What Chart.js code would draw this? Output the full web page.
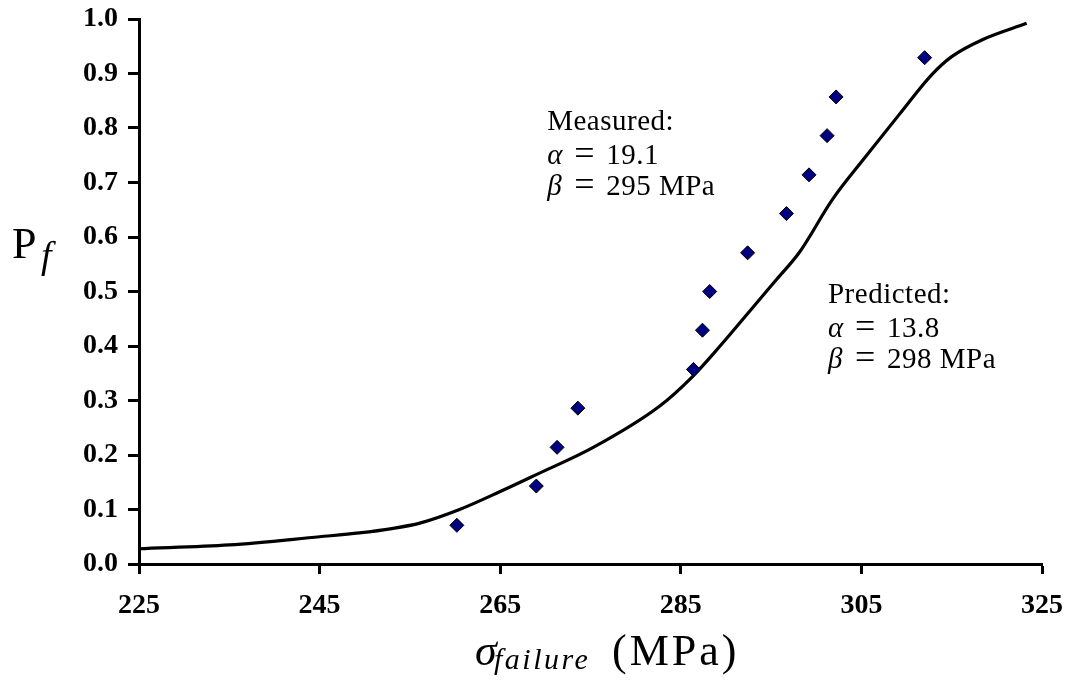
<!DOCTYPE html>
<html>
<head>
<meta charset="utf-8">
<script src="https://cdn.jsdelivr.net/npm/chart.js@4.4.1/dist/chart.umd.min.js"></script>
<style>
  html, body { margin: 0; padding: 0; background: #fff; }
  #wrap { width: 1069px; height: 685px; }
</style>
</head>
<body>
<div id="wrap"><canvas id="myChart" width="1069" height="685"></canvas></div>
<script>
// measured failure stresses (MPa) and their failure probabilities
const measuredStress = [260.2, 269.0, 271.3, 273.6, 286.4, 287.4, 288.2, 292.4, 296.7, 299.2, 301.2, 302.2, 312.0];
const measuredPf = [0.071, 0.143, 0.214, 0.286, 0.357, 0.429, 0.500, 0.571, 0.643, 0.714, 0.786, 0.857, 0.929];

// predicted curve
const predictedStress = [225, 235, 245, 249.4, 253, 256.1, 260.5, 265, 269, 275.2, 282.6, 286.3, 289.3, 293.7, 295.6, 298.1, 301.8, 305.5, 309.2, 312.8, 315, 318.4, 323.3];
const predictedPf = [0.028, 0.035, 0.050, 0.057, 0.065, 0.075, 0.100, 0.133, 0.164, 0.213, 0.289, 0.344, 0.399, 0.485, 0.522, 0.571, 0.669, 0.748, 0.825, 0.898, 0.931, 0.962, 0.992];

const xTicks = [225, 245, 265, 285, 305, 325];
const yTicks = [0.0, 0.1, 0.2, 0.3, 0.4, 0.5, 0.6, 0.7, 0.8, 0.9, 1.0];

const serif = '"Liberation Serif", "Times New Roman", serif';

const toPoints = (xs, ys) => xs.map((x, i) => ({ x: x, y: ys[i] }));

// annotation blocks: [label, alpha, beta] anchored in data space
const notes = [
  { x: 270.2, y: 0.797, lines: ["Measured:", "19.1", "295"] },
  { x: 301.3, y: 0.479, lines: ["Predicted:", "13.8", "298"] },
];

const textPlugin = {
  id: "texts",
  afterDraw(chart) {
    const c = chart.ctx;
    const area = chart.chartArea;
    const sx = chart.scales.x;
    const sy = chart.scales.y;
    c.save();
    c.fillStyle = "#000";
    c.textBaseline = "alphabetic";
    c.textAlign = "left";

    // annotations
    notes.forEach((n) => {
      const x0 = sx.getPixelForValue(n.x);
      const b0 = sy.getPixelForValue(n.y);
      c.font = "29px " + serif;
      c.letterSpacing = "0.5px";
      c.fillText(n.lines[0], x0, b0);
      c.letterSpacing = "0px";
      const b1 = b0 + 34;
      const b2 = b0 + 65;
      c.font = "italic 29px " + serif;
      c.fillText("α", x0, b1);
      c.fillText("β", x0, b2);
      c.font = "36px " + serif;
      c.fillText("=", x0 + 27, b1 + 1);
      c.fillText("=", x0 + 27, b2 + 1);
      c.font = "29px " + serif;
      c.letterSpacing = "0.5px";
      c.fillText(n.lines[1], x0 + 59, b1);
      c.fillText(n.lines[2] + " MPa", x0 + 59, b2);
      c.letterSpacing = "0px";
    });

    // y axis title P_f
    c.font = "44px " + serif;
    c.fillText("P", 12, 258);
    c.font = "italic 38px " + serif;
    c.fillText("f", 41, 268);

    // x axis title sigma_failure (MPa)
    const tx = area.left + 336;
    c.font = "italic 44px " + serif;
    c.fillText("σ", tx, 665);
    c.font = "italic 30px " + serif;
    c.letterSpacing = "2.5px";
    c.fillText("failure", tx + 19, 669);
    c.font = "44px " + serif;
    c.letterSpacing = "3px";
    c.fillText("(MPa)", tx + 137, 665);
    c.letterSpacing = "0px";
    c.restore();
  },
};

const noOverhang = (scale) => {
  scale.paddingTop = 0;
  scale.paddingBottom = 0;
  scale.paddingLeft = 0;
  scale.paddingRight = 0;
};

let ctx = null;
let curChart = null;

const init = () => {
  ctx = document.getElementById("myChart").getContext("2d");

  curChart = new Chart(ctx, {
    type: "scatter",
    data: {
      datasets: [
        {
          label: "Measured",
          data: toPoints(measuredStress, measuredPf),
          pointStyle: "rectRot",
          pointRadius: 7,
          pointBackgroundColor: "#000080",
          pointBorderColor: "#000",
          pointBorderWidth: 1,
          showLine: false,
        },
        {
          label: "Predicted",
          data: toPoints(predictedStress, predictedPf),
          showLine: true,
          borderColor: "#000",
          borderWidth: 3.2,
          pointRadius: 0,
          cubicInterpolationMode: "monotone",
        },
      ],
    },
    options: {
      responsive: false,
      animation: false,
      layout: { padding: { top: 19, right: 27, bottom: 0, left: 0 } },
      plugins: {
        legend: { display: false },
        tooltip: { enabled: false },
      },
      scales: {
        x: {
          type: "linear",
          position: "bottom",
          min: xTicks[0],
          max: xTicks[xTicks.length - 1],
          afterBuildTicks: (scale) => {
            scale.ticks = xTicks.map((v) => ({ value: v }));
          },
          afterFit: (scale) => {
            scale.height = 121;
            noOverhang(scale);
          },
          grid: {
            drawOnChartArea: false,
            drawTicks: true,
            tickLength: 10,
            tickColor: "#000",
            tickWidth: 3,
          },
          border: { display: true, color: "#000", width: 3 },
          ticks: {
            color: "#000",
            padding: 15,
            maxRotation: 0,
            font: { family: serif, size: 28, weight: "bold" },
            callback: (v) => String(v),
          },
        },
        y: {
          type: "linear",
          min: 0,
          max: 1,
          afterBuildTicks: (scale) => {
            scale.ticks = yTicks.map((v) => ({ value: v }));
          },
          afterFit: (scale) => {
            scale.width = 139;
            noOverhang(scale);
          },
          grid: {
            drawOnChartArea: false,
            drawTicks: true,
            tickLength: 11,
            tickColor: "#000",
            tickWidth: 3,
          },
          border: { display: true, color: "#000", width: 3 },
          ticks: {
            color: "#000",
            padding: 10,
            font: { family: serif, size: 28, weight: "bold" },
            callback: (v) => Number(v).toFixed(1),
          },
        },
      },
    },
    plugins: [textPlugin],
  });
};

window.addEventListener("load", init);
</script>
</body>
</html>
